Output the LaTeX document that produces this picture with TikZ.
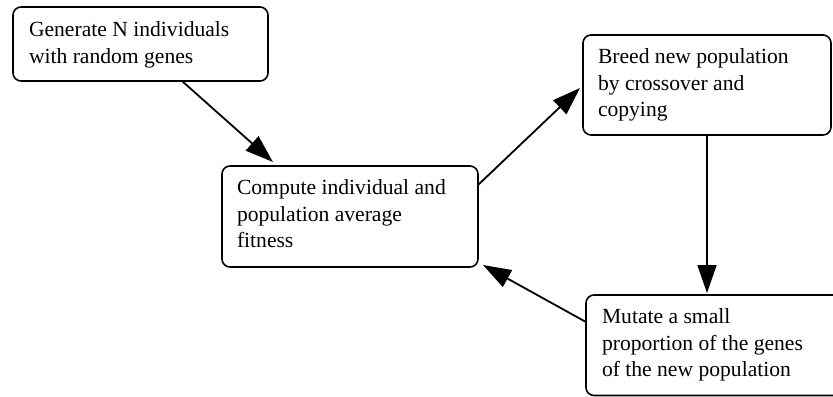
\documentclass[tikz,border=0pt]{standalone}
\usepackage{fontspec}
\setmainfont{Liberation Serif}
\usetikzlibrary{arrows.meta,calc}

\tikzset{
  stepbox/.style={draw=black, line width=1.6bp, rounded corners=8bp, fill=white,
    anchor=north west, inner sep=0pt, outer sep=0pt},
  boxtext/.style={anchor=north west, inner sep=0pt, outer sep=0pt, align=left,
    font=\fontsize{21.6bp}{26.8bp}\selectfont},
  flow/.style={draw=black, line width=1.8bp,
    -{Triangle[length=28bp, width=19bp]}},
}

\begin{document}
\begin{tikzpicture}[x=1bp, y=-1bp]
  \useasboundingbox (0,0) rectangle (833,396);
  \clip (0,0) rectangle (833,396);

  % process boxes
  \node[stepbox, minimum width=255bp, minimum height=74bp]   (b1) at (13,7)    {};
  \node[stepbox, minimum width=256bp, minimum height=101bp]  (b2) at (222,166) {};
  \node[stepbox, minimum width=248bp, minimum height=100bp]  (b3) at (583,35)  {};
  \node[stepbox, minimum width=260bp, minimum height=100.5bp] (b4) at (586,295) {};

  % box captions (baseline of first line 28bp below the box top)
  \node[boxtext] (t1) at ($(b1.north west)+(16,10.5)$)
    {\strut Generate N individuals\\with random genes};
  \node[boxtext] (t2) at ($(b2.north west)+(15,9.5)$)
    {\strut Compute individual and\\population average\\fitness};
  \node[boxtext] (t3) at ($(b3.north west)+(15,9.5)$)
    {\strut Breed new population\\by crossover and\\copying};
  \node[boxtext] (t4) at ($(b4.north west)+(16,9.5)$)
    {\strut Mutate a small\\proportion of the genes\\of the new population};

  % cycle of the algorithm
  \draw[flow] ($(b1.south west)+(169,0)$) -- ($(b2.north west)+(51,-4)$);
  \draw[flow] ($(b2.north east)+(0,19)$) -- ($(b3.north west)+(-3,53)$);
  \draw[flow] (b3.south) -- ($(b3.south |- b4.north)+(0,-2)$);
  \draw[flow] ($(b4.north west)+(0,27)$) -- ($(b2.south east)+(5,-2)$);
\end{tikzpicture}
\end{document}
